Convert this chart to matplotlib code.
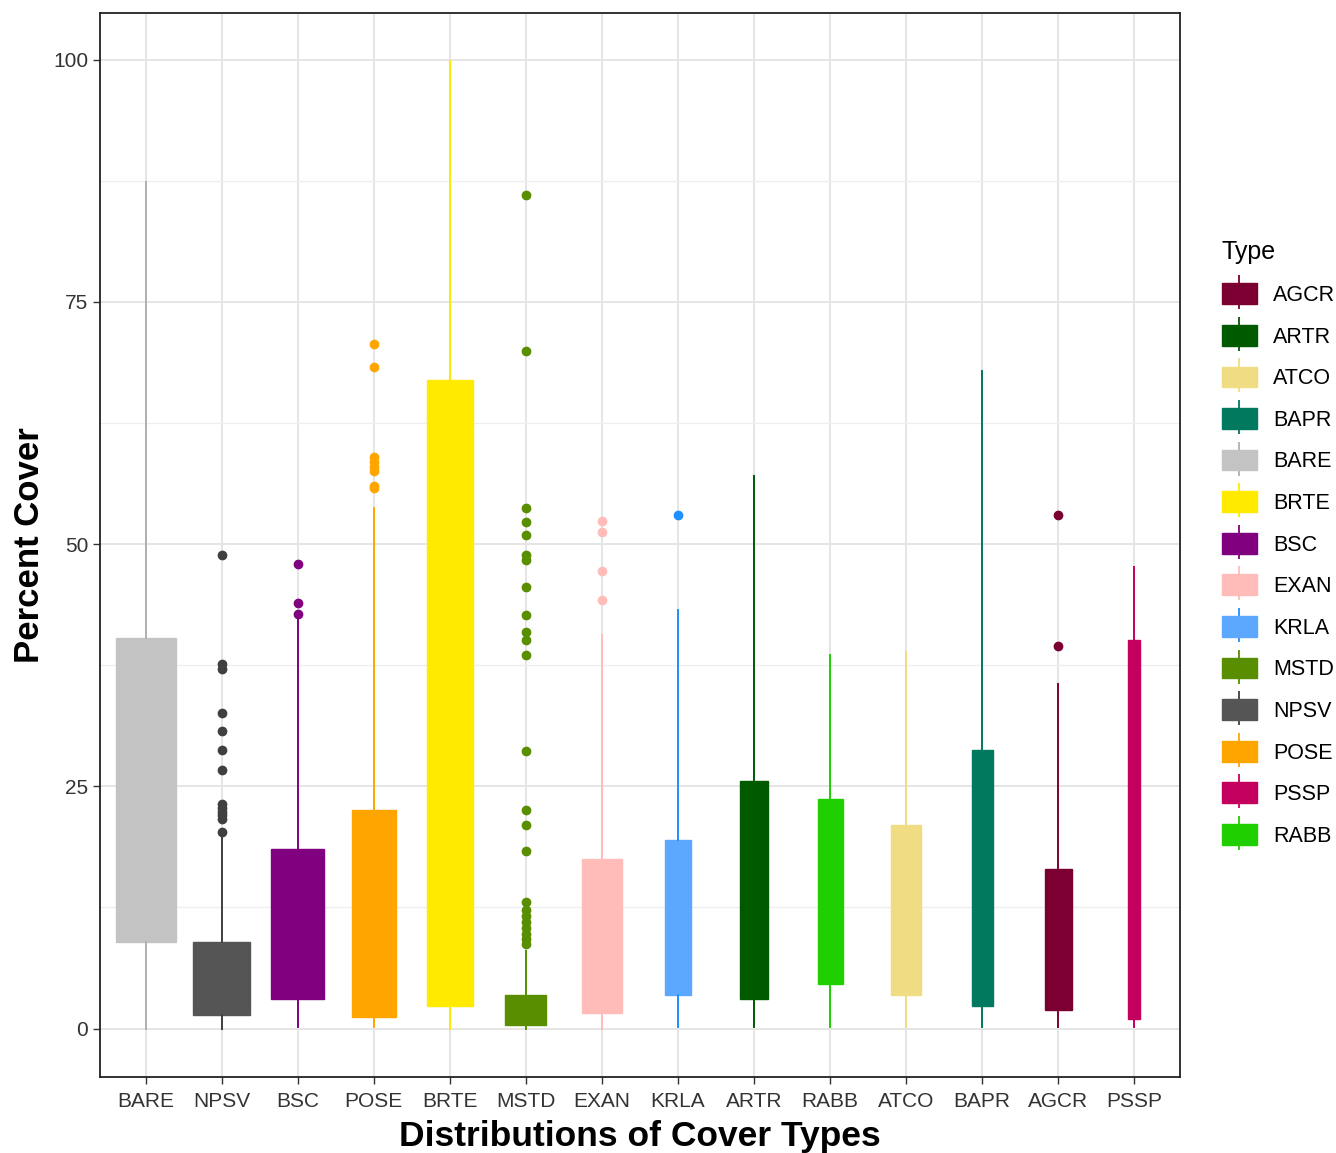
import matplotlib
matplotlib.use("Agg")
import matplotlib.pyplot as plt
from matplotlib.patches import Patch
from matplotlib.lines import Line2D
from matplotlib.legend_handler import HandlerTuple

plt.rcParams['font.family'] = ['Liberation Sans', 'DejaVu Sans']

# cover types in plotting order
types = ["BARE", "NPSV", "BSC", "POSE", "BRTE", "MSTD", "EXAN",
         "KRLA", "ARTR", "RABB", "ATCO", "BAPR", "AGCR", "PSSP"]

# box stats
q1 = [8.9, 1.4, 3.0, 1.2, 2.3, 0.4, 1.6, 3.5, 3.1, 4.6, 3.5, 2.3, 1.9, 1.0]
q3 = [40.3, 8.9, 18.5, 22.6, 66.9, 3.5, 17.5, 19.5, 25.5, 23.7, 21.0, 28.7, 16.5, 40.1]
med = [22.0, 4.0, 9.0, 8.0, 25.0, 1.5, 6.0, 9.0, 10.0, 11.0, 10.0, 10.0, 6.0, 12.0]
whislo = [0.0, 0.0, 0.2, 0.2, 0.0, 0.0, 0.0, 0.2, 0.2, 0.2, 0.2, 0.2, 0.2, 0.2]
whishi = [87.4, 19.8, 42.2, 53.7, 99.8, 8.0, 40.6, 43.2, 57.0, 38.5, 38.9, 67.9, 35.6, 47.6]

# outliers
fliers = {
    "NPSV": [48.9, 37.6, 37.1, 32.6, 30.7, 28.7, 26.7, 23.2, 22.8, 22.4, 22.0, 21.6, 20.3],
    "BSC": [47.9, 43.9, 42.8],
    "POSE": [70.6, 68.3, 59.0, 58.5, 58.0, 57.5, 56.0, 55.8],
    "MSTD": [86.0, 69.9, 53.7, 52.3, 50.9, 48.9, 48.4, 45.6, 42.7, 40.9, 40.1, 38.6,
             28.6, 22.6, 21.0, 18.3, 13.1, 12.2, 11.6, 11.0, 10.4, 9.8, 9.2, 8.7],
    "EXAN": [52.4, 51.2, 47.2, 44.2],
    "KRLA": [53.0],
    "AGCR": [53.0, 39.5],
}

# relative box widths (varwidth)
box_widths = [0.79, 0.75, 0.70, 0.58, 0.61, 0.54, 0.53, 0.33, 0.37, 0.33, 0.40, 0.28, 0.36, 0.16]

fill_colors = {
    "AGCR": "#7B0031", "ARTR": "#005A00", "ATCO": "#F0DC82", "BAPR": "#00795F",
    "BARE": "#C3C3C3", "BRTE": "#FFEA00", "BSC": "#800080", "EXAN": "#FFBCB8",
    "KRLA": "#5CA8FF", "MSTD": "#588E00", "NPSV": "#555555", "POSE": "#FFA500",
    "PSSP": "#C4005E", "RABB": "#20CF00",
}
line_colors = dict(fill_colors)
line_colors["BARE"] = "#B0B0B0"
line_colors["KRLA"] = "#1E90FF"
line_colors["NPSV"] = "#404040"

fig = plt.figure(figsize=(13.36, 11.53), dpi=100)
ax = fig.add_axes([0.0749, 0.0659, 0.8083, 0.9228])

stats = []
for i, t in enumerate(types):
    stats.append(dict(label=t, med=med[i], q1=q1[i], q3=q3[i],
                      whislo=whislo[i], whishi=whishi[i], fliers=fliers.get(t, [])))

pos = list(range(1, len(types) + 1))
bp = ax.bxp(stats, positions=pos, widths=box_widths, patch_artist=True,
            showcaps=False, zorder=3)
for i, t in enumerate(types):
    fc = fill_colors[t]
    lc = line_colors[t]
    bp['boxes'][i].set(facecolor=fc, edgecolor=fc, linewidth=1)
    bp['medians'][i].set(color=fc, linewidth=1)
    for w in bp['whiskers'][2 * i:2 * i + 2]:
        w.set(color=lc, linewidth=1.4)
    bp['fliers'][i].set(marker='o', markerfacecolor=lc, markeredgecolor=lc,
                        markersize=6)

ax.set_xlim(0.4, len(types) + 0.6)
ax.set_ylim(-5, 104.8)
ax.set_xticks(pos)
ax.set_xticklabels(types)
ax.set_yticks([0, 25, 50, 75, 100])
ax.set_yticks([12.5, 37.5, 62.5, 87.5], minor=True)
ax.grid(True, which='major', color='#E5E5E5', linewidth=1.4, zorder=0)
ax.grid(True, which='minor', axis='y', color='#EEEEEE', linewidth=0.9, zorder=0)
ax.set_axisbelow(True)
ax.tick_params(axis='both', which='major', labelsize=15, colors='#333333',
               length=5, width=1, labelcolor='#333333')
ax.tick_params(axis='x', which='major', pad=6)
ax.tick_params(axis='y', which='minor', length=0)
for s in ax.spines.values():
    s.set_color('#222222')
    s.set_linewidth(1.3)

ax.set_xlabel("Distributions of Cover Types", fontsize=25.5, fontweight='bold', labelpad=6)
ax.set_ylabel("Percent Cover", fontsize=25, fontweight='bold', labelpad=5)

# legend with boxplot-like keys
order = sorted(types)
handles = []
for t in order:
    ln = Line2D([], [], color=line_colors[t], marker='|', linestyle='None',
                markersize=25, markeredgewidth=1.3)
    pt = Patch(facecolor=fill_colors[t], edgecolor=fill_colors[t])
    handles.append((ln, pt))
leg = fig.legend(handles, order, loc='upper left', bbox_to_anchor=(0.908, 0.799),
                 title="Type", frameon=False, fontsize=15.5, title_fontsize=18,
                 handler_map={tuple: HandlerTuple(ndivide=1)},
                 handlelength=1.65, handleheight=1.1, labelspacing=0.88,
                 handletextpad=0.75, alignment='left', borderaxespad=0)

fig.savefig("out.png", dpi=100)
